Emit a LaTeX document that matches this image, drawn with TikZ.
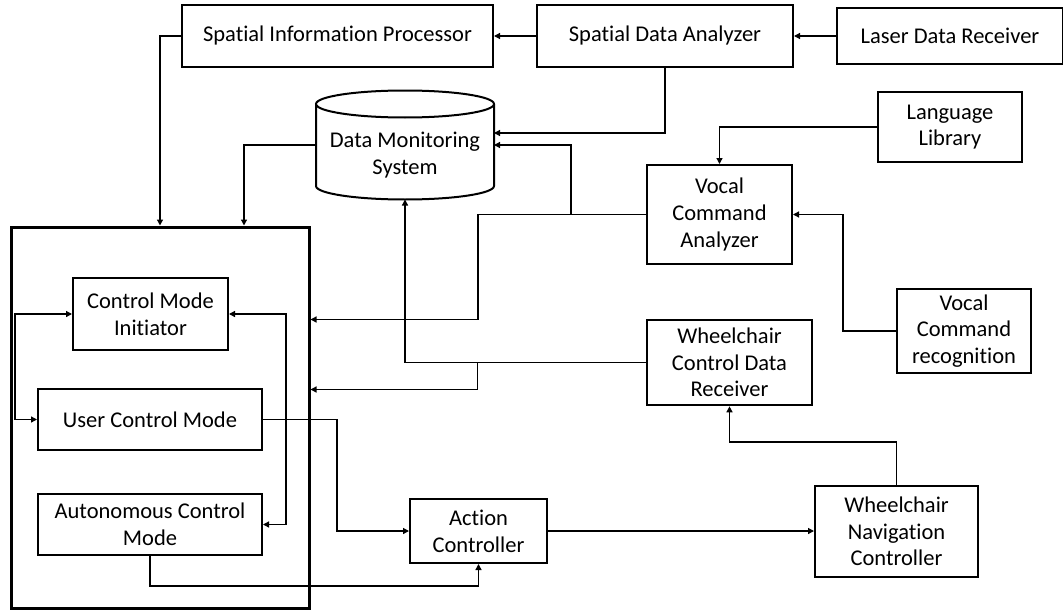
\documentclass[tikz,border=0pt]{standalone}
\usepackage{fontspec}
\setmainfont{Carlito}[Ligatures=NoCommon]
\usetikzlibrary{positioning, arrows.meta}

\begin{document}
\begin{tikzpicture}[
    x=1pt, y=-1pt,
    node distance=42pt,
    box/.style={
        rectangle,
        draw=black,
        line width=2pt,
        align=center,
        inner sep=2pt,
        font=\fontsize{22.5}{26.7}\selectfont
    },
    arrow/.style={
        -{Triangle[length=6pt,width=6pt]},
        line width=1.3pt
    },
    biarrow/.style={
        {Triangle[length=6pt,width=6pt]}-{Triangle[length=6pt,width=6pt]},
        line width=1.3pt
    },
    dbshape/.style={
        minimum width=178,
        minimum height=109,
        outer sep=0pt
    },
    dbline/.style={
        line width=2pt
    },
    group/.style={
        rectangle,
        draw=black,
        line width=3pt,
        minimum width=298,
        minimum height=381
    }
]

\useasboundingbox (0,0) rectangle (1063,610);

% Gorny rzad
\node[box, minimum width=256, minimum height=62] (sda) at (665,36) {Spatial Data Analyzer};
\node[box, minimum width=311, minimum height=62, left=of sda] (sip) {Spatial Information Processor};
\node[box, minimum width=226, minimum height=56, right=of sda] (ldr) {Laser Data Receiver};

% Baza danych
\node[dbshape] (dms) at (405,145) {};
\draw[dbline] ([yshift=-13.5pt]dms.north) ellipse [x radius=89pt, y radius=13.5pt];
\draw[dbline] ([yshift=-13.5pt]dms.north west) -- ([yshift=13.5pt]dms.south west)
    arc[start angle=180, end angle=360, x radius=89pt, y radius=13.5pt]
    -- ([yshift=-13.5pt]dms.north east);
\node[align=center, font=\fontsize{22.5}{26.7}\selectfont] (dmslabel) at (405,155) {Data Monitoring\\System};

\node[box, minimum width=144, minimum height=70] (ll) at (950,127) {Language\\Library};
\node[box, minimum width=145, minimum height=99] (vca) at (719.5,214.5) {Vocal\\Command\\Analyzer};
\node[box, minimum width=134, minimum height=84] (vcr) at (964,331) {Vocal\\Command\\recognition};
\node[box, line width=2.6pt, minimum width=165, minimum height=85] (wcdr) at (729.5,362.5) {Wheelchair\\Control Data\\Receiver};
\node[box, minimum width=163, minimum height=91] (wnc) at (896.5,531.5) {Wheelchair\\Navigation\\Controller};
\node[box, minimum width=137, minimum height=64] (ac) at (478.5,531) {Action\\Controller};

% Modul sterowania
\node[group] (cont) at (160,417.5) {};
\node[box, minimum width=155, minimum height=72] (cmi) at (150.5,314) {Control Mode\\Initiator};
\node[box, minimum width=224, minimum height=61, below=37pt of cmi.south -| cont.center, xshift=-10pt, anchor=north] (ucm) {User Control Mode};
\node[box, minimum width=224, minimum height=61, below=42pt of ucm] (acm) {Autonomous Control\\Mode};

\draw[arrow] (ldr) -- (sda);
\draw[arrow] (sda) -- (sip);
\draw[arrow] (sip.west) -| (cont.north);
\draw[arrow] (sda.south) |- ([yshift=12pt]dms.east);
\draw[arrow] (dms.west) -| ([xshift=84pt]cont.north);

\draw[arrow] (ll.west) -| (vca.north);
\draw[arrow] (vcr.west) -- ++(-53,0) |- (vca.east);
\draw[arrow] (vca.west) -- ++(-75,0) |- (dms.east);
\draw[arrow] (vca.west) -- ++(-168,0) |- ([yshift=98pt]cont.east);

\draw[arrow] (wcdr.west) -| (dms.south);
\draw[arrow] (wcdr.west) -- ++(-168,0) |- ([yshift=28pt]cont.east);
\draw[arrow] (wnc.north) -- ++(0,-43) -| (wcdr.south);

\draw[arrow] (ac.east) -- (ac.east -| wnc.west);
\draw[arrow] (ucm.east) -- ++(74,0) |- (ac.west);
\draw[arrow] (acm.south) -- ++(0,30) -| (ac.south);

\draw[biarrow] (cmi.west) -- ++(-57,0) |- (ucm.west);
\draw[biarrow] (cmi.east) -- ++(57,0) |- (acm.east);

\end{tikzpicture}
\end{document}
